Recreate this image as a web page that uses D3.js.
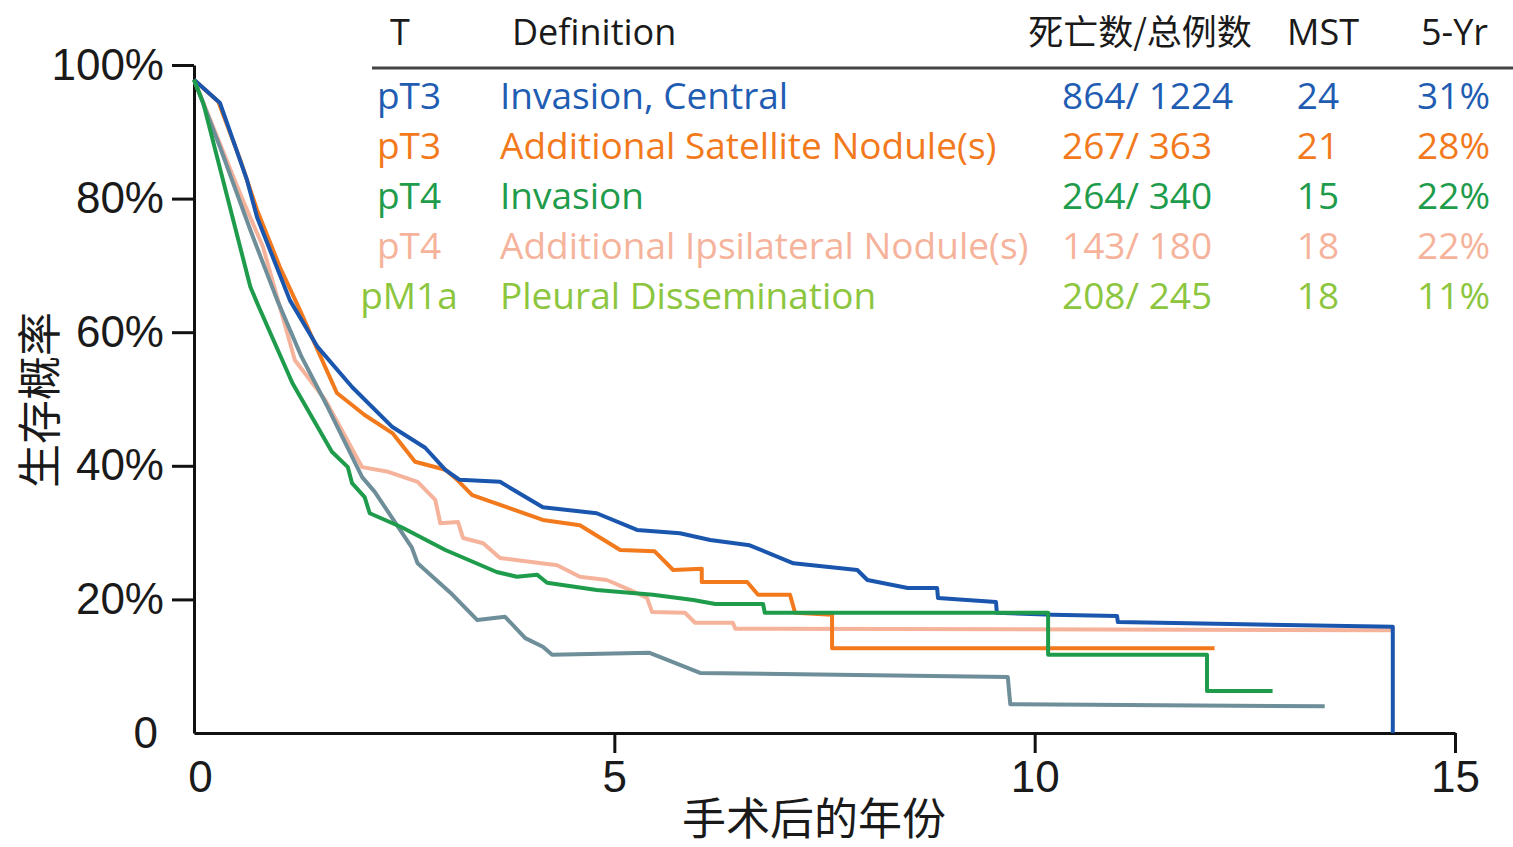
<!DOCTYPE html>
<html>
<head>
<meta charset="utf-8">
<script src="https://cdn.jsdelivr.net/npm/d3@7"></script>
<style>
  body { margin: 0; background: #fff; }
</style>
</head>
<body>
<div id="chart"></div>
<script>
// survival curves (years after surgery, survival %)
const centralTimes = [0, 0.31, 0.63, 0.75, 1.14, 1.47, 1.88, 2.36, 2.75, 2.99, 3.16, 3.64, 4.15, 4.79, 5.27, 5.78, 6.14, 6.61, 7.13, 7.89, 8.01, 8.49, 8.84, 8.85, 9.54, 9.55, 10.21, 10.98, 10.99, 14.26, 14.26];
const centralSurv  = [97.8, 94.3, 82.8, 77.2, 64.8, 57.8, 51.8, 45.8, 42.7, 39.4, 37.9, 37.6, 33.8, 32.9, 30.4, 29.9, 28.9, 28.1, 25.4, 24.4, 22.9, 21.7, 21.7, 20.2, 19.6, 18.0, 17.7, 17.5, 16.6, 15.9, 0];

const satelliteTimes = [0, 0.29, 0.55, 0.75, 1.02, 1.26, 1.56, 1.70, 2.03, 2.36, 2.63, 2.99, 3.13, 3.31, 3.72, 4.15, 4.59, 5.07, 5.48, 5.70, 6.04, 6.04, 6.58, 6.71, 7.09, 7.15, 7.59, 7.59, 12.14];
const satelliteSurv  = [97.8, 94.5, 85.8, 78.3, 69.8, 63.3, 54.8, 50.9, 47.6, 44.9, 40.6, 39.4, 37.9, 35.6, 33.8, 31.9, 31.1, 27.4, 27.2, 24.4, 24.6, 22.6, 22.6, 20.7, 20.7, 18.0, 17.7, 12.7, 12.7];

const invasionTimes = [0, 0.11, 0.67, 0.76, 1.17, 1.64, 1.83, 1.88, 2.03, 2.09, 2.47, 2.99, 3.60, 3.84, 4.08, 4.20, 4.79, 5.46, 5.94, 6.20, 6.77, 6.79, 10.16, 10.16, 12.05, 12.05, 12.83];
const invasionSurv  = [97.8, 94.3, 66.8, 64.1, 52.4, 42.1, 39.8, 37.4, 35.3, 32.9, 30.8, 27.4, 24.1, 23.4, 23.7, 22.5, 21.4, 20.7, 19.9, 19.3, 19.3, 18.0, 18.0, 11.7, 11.7, 6.3, 6.3];

const ipsiTimes = [0, 0.58, 0.82, 1.20, 1.56, 2.00, 2.31, 2.66, 2.87, 2.93, 3.14, 3.20, 3.44, 3.64, 4.32, 4.59, 4.91, 5.19, 5.39, 5.45, 5.84, 5.96, 6.41, 6.44, 14.25];
const ipsiSurv  = [97.8, 79.8, 72.8, 55.8, 49.9, 39.8, 39.1, 37.6, 34.9, 31.4, 31.6, 29.2, 28.4, 26.2, 25.1, 23.4, 22.9, 21.4, 20.2, 18.1, 18.0, 16.5, 16.5, 15.6, 15.4];

const pleuralTimes = [0, 0.31, 0.67, 0.99, 1.28, 1.59, 2.00, 2.15, 2.59, 2.66, 3.05, 3.37, 3.70, 3.94, 4.15, 4.26, 5.42, 6.02, 9.68, 9.71, 13.45];
const pleuralSurv  = [97.8, 87.7, 75.3, 64.8, 56.3, 48.8, 38.3, 36.1, 27.8, 25.4, 21.0, 16.9, 17.4, 14.2, 12.9, 11.7, 12.0, 9.0, 8.4, 4.3, 4.0];

// table in the top right
const stages      = ['pT3', 'pT3', 'pT4', 'pT4', 'pM1a'];
const definitions = ['Invasion, Central', 'Additional Satellite Nodule(s)', 'Invasion', 'Additional Ipsilateral Nodule(s)', 'Pleural Dissemination'];
const deaths      = [864, 267, 264, 143, 208];
const totals      = [1224, 363, 340, 180, 245];
const mst         = [24, 21, 15, 18, 18];
const fiveYr      = ['31%', '28%', '22%', '22%', '11%'];

const xTicks = [0, 5, 10, 15];
const yTicks = [0, 20, 40, 60, 80, 100];

const textColors = ['#1f5db3', '#f27a1d', '#1f9c4b', '#f6b39b', '#8cc63e'];
const lineColors = ['#1a56ad', '#f27a1d', '#1f9c4b', '#f6b39b', '#6e8e99'];

const width = 1513, height = 847;

const svg = d3.select('#chart')
  .append('svg')
    .attr('width', width)
    .attr('height', height);

const x = d3.scaleLinear().domain([0, 15]).range([194, 1455]);
const y = d3.scaleLinear().domain([0, 100]).range([733, 65]);

// axes
const xAxis = svg.append('g')
  .attr('transform', 'translate(0,733)')
  .call(d3.axisBottom(x).tickValues(xTicks).tickSize(20).tickSizeOuter(0).tickPadding(8));
xAxis.selectAll('.tick').filter(d => d === 0).select('line').remove();
xAxis.selectAll('.tick').filter(d => d === 0).select('text').attr('dx', 6);

const yAxis = svg.append('g')
  .attr('transform', 'translate(194,0)')
  .call(d3.axisLeft(y).tickValues(yTicks).tickFormat(d => d === 0 ? '0' : d + '%')
    .tickSize(22).tickSizeOuter(0).tickPadding(8));
yAxis.selectAll('.tick').filter(d => d === 0).select('line').remove();
yAxis.selectAll('.tick').filter(d => d === 0).select('text').attr('dx', -6);

svg.selectAll('.domain, .tick line')
  .attr('stroke', '#111')
  .attr('stroke-width', 3);
svg.selectAll('.tick text')
  .attr('fill', '#1a1a1a')
  .style('font-family', '"Liberation Sans", Arial, sans-serif')
  .style('font-size', '44px');

// axis titles
svg.append('text')
  .attr('x', 814)
  .attr('y', 835)
  .attr('text-anchor', 'middle')
  .style('font-family', '"Noto Sans CJK SC", sans-serif')
  .style('font-size', '44px')
  .attr('fill', '#1a1a1a')
  .text('手术后的年份');

svg.append('text')
  .attr('transform', 'translate(56,400) rotate(-90)')
  .attr('text-anchor', 'middle')
  .style('font-family', '"Noto Sans CJK SC", sans-serif')
  .style('font-size', '44px')
  .attr('fill', '#1a1a1a')
  .text('生存概率');

// curves
const series = [
  { t: ipsiTimes, s: ipsiSurv, c: lineColors[3] },
  { t: satelliteTimes, s: satelliteSurv, c: lineColors[1] },
  { t: pleuralTimes, s: pleuralSurv, c: lineColors[4] },
  { t: centralTimes, s: centralSurv, c: lineColors[0] },
  { t: invasionTimes, s: invasionSurv, c: lineColors[2] }
];

const line = d3.line()
  .x(d => x(d[0]))
  .y(d => y(d[1]));

svg.append('g')
  .selectAll('path')
  .data(series)
  .enter()
  .append('path')
    .attr('d', d => line(d.t.map((t, i) => [t, d.s[i]])))
    .attr('fill', 'none')
    .attr('stroke', d => d.c)
    .attr('stroke-width', 4)
    .attr('stroke-linejoin', 'round');

// table
const tableFont = '"Open Sans", "Noto Sans", sans-serif';
const headY = 45, rowY0 = 109, rowStep = 50;

const header = svg.append('g')
  .style('font-family', tableFont)
  .style('font-size', '36px')
  .attr('fill', '#1a1a1a');
header.append('text').attr('x', 400).attr('y', headY).attr('text-anchor', 'middle').text('T');
header.append('text').attr('x', 512).attr('y', headY).text('Definition');
header.append('text').attr('x', 1140).attr('y', headY).attr('text-anchor', 'middle')
  .style('font-family', '"Noto Sans CJK SC", sans-serif').style('font-size', '35px').text('死亡数/总例数');
header.append('text').attr('x', 1323).attr('y', headY).attr('text-anchor', 'middle').text('MST');
header.append('text').attr('x', 1488).attr('y', headY).attr('text-anchor', 'end').text('5-Yr');

svg.append('line')
  .attr('x1', 372).attr('x2', 1513)
  .attr('y1', 68).attr('y2', 68)
  .attr('stroke', '#444')
  .attr('stroke-width', 3);

const rows = svg.append('g')
  .style('font-family', tableFont)
  .style('font-size', '37px')
  .selectAll('g')
  .data(stages)
  .enter()
  .append('g')
    .attr('fill', (d, i) => textColors[i])
    .attr('transform', (d, i) => 'translate(0,' + (rowY0 + i * rowStep) + ')');

rows.append('text').attr('x', 409).attr('text-anchor', 'middle').text(d => d);
rows.append('text').attr('x', 500).text((d, i) => definitions[i]);
rows.append('text').attr('x', 1062).text((d, i) => deaths[i] + '/ ' + totals[i]);
rows.append('text').attr('x', 1318).attr('text-anchor', 'middle').text((d, i) => mst[i]);
rows.append('text').attr('x', 1490).attr('text-anchor', 'end').text((d, i) => fiveYr[i]);
</script>
</body>
</html>
